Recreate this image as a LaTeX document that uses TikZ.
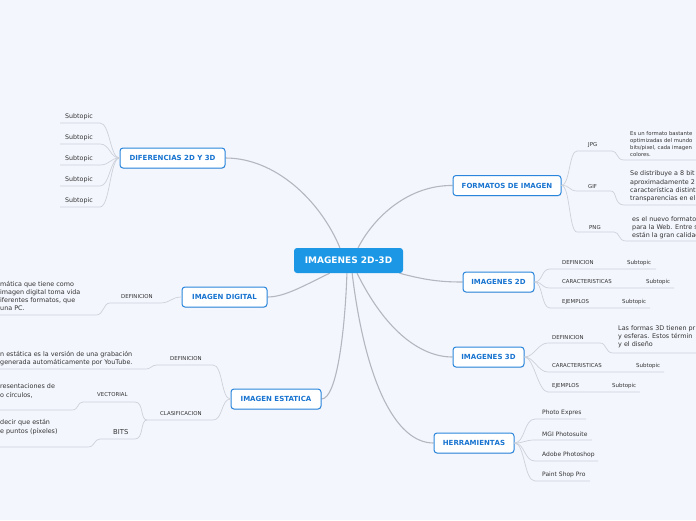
\documentclass[tikz,border=0pt]{standalone}
\usepackage{fontspec}
\setmainfont{DejaVu Sans}
\usetikzlibrary{positioning,backgrounds,shadows}
\definecolor{cBg}{HTML}{F3F6FD}
\definecolor{cRoot}{HTML}{1B97E6}
\definecolor{cTopic}{HTML}{2A86DD}
\definecolor{cTopicTx}{HTML}{1874D0}
\definecolor{cLink}{HTML}{B4B7BF}
\definecolor{cSub}{HTML}{CDD1D9}
\definecolor{cInk}{HTML}{333333}

\begin{document}
\begin{tikzpicture}[
    x=1pt, y=-1pt,
    every node/.style={text=cInk},
    root/.style={
        rectangle, rounded corners=3pt, fill=cRoot,
        minimum width=109pt, minimum height=25pt,
        text=white, font=\bfseries\fontsize{9}{10}\selectfont
    },
    topic/.style={
        rectangle, rounded corners=3pt, draw=cTopic, line width=1pt,
        fill=white, minimum height=20pt, inner xsep=6pt,
        drop shadow={opacity=0.18, shadow xshift=0.4pt, shadow yshift=-0.8pt},
        text=cTopicTx, font=\bfseries\fontsize{7}{8}\selectfont
    },
    lbl/.style={anchor=west, inner sep=0pt, font=\fontsize{5.4}{6}\selectfont},
    leaf/.style={anchor=west, inner sep=0pt, font=\fontsize{6}{7}\selectfont},
    note/.style={anchor=west, inner sep=0pt, align=left, font=\fontsize{6.4}{8}\selectfont},
    link/.style={draw=cLink, line width=1.1pt},
    sublink/.style={draw=cSub, line width=0.7pt},
]

\useasboundingbox (0,0) rectangle (696,520);
\begin{scope}[on background layer]
    \fill[cBg] (0,0) rectangle (696,520);
\end{scope}

% =====================================================
% Root and main topics
% =====================================================

\node[root] (root) at (348.5,260.5) {IMAGENES 2D-3D};

\node[topic, minimum width=105pt] (dif) at (172.5,158) {DIFERENCIAS 2D Y 3D};
\node[topic, minimum width=85pt]  (dig) at (224.5,297) {IMAGEN DIGITAL};
\node[topic, minimum width=90pt]  (est) at (276,399)   {IMAGEN ESTATICA};
\node[topic, minimum width=108pt] (fmt) at (507,185.5) {FORMATOS DE IMAGEN};
\node[topic, minimum width=71pt]  (i2d) at (498.5,282) {IMAGENES 2D};
\node[topic, minimum width=71pt]  (i3d) at (488.5,357) {IMAGENES 3D};
\node[topic, minimum width=80pt]  (her) at (474,443)   {HERRAMIENT\raisebox{-0.8pt}{AS}};

\begin{scope}[on background layer]
    \draw[link] (root.124) .. controls (320,200) and (275,158) .. (dif.east);
    \draw[link] (root.53)  .. controls (375,215) and (410,185) .. (fmt.west);
    \draw[link] (root.-14) .. controls (425,280) and (440,282) .. (i2d.west);
    \draw[link] (root.-146) .. controls (305,285) and (285,297) .. (dig.east);
    \draw[link] (root.-97) .. controls (345,330) and (337,399) .. (est.east);
    \draw[link] (root.-56) .. controls (385,330) and (420,357) .. (i3d.west);
    \draw[link] (root.-74) .. controls (365,380) and (395,443) .. (her.west);
\end{scope}

% =====================================================
% DIFERENCIAS 2D Y 3D
% =====================================================

\foreach \yy [count=\i] in {123,144,165,186,207} {
    \coordinate (difU\i) at (100,\yy);
    \node[leaf, font=\fontsize{6.3}{7}\selectfont] (difS\i) at (65,\yy-6.5) {Subtopic};
    \draw[sublink] (dif.west) .. controls (110,158) and (110,\yy) .. (difU\i) -- (60,\yy);
}

% =====================================================
% IMAGEN DIGITAL
% =====================================================

\node[lbl] (dgDef) at (121,297) {DEFINICION};
\coordinate (dgU) at (160,303);
\coordinate (dgEnd) at (0,315);
\draw[sublink] (dig.west) .. controls (171,297) and (171,303) .. (dgU)
    -- (110,303) .. controls (103,303) and (104,315) .. (96,315) -- (dgEnd);
\node[note] (dgTxt) at (0,296) {mática que tiene como\\ imagen digital toma vida\\iferentes formatos, que\\ una PC.};

% =====================================================
% IMAGEN ESTATICA
% =====================================================

\node[lbl] (esDef) at (170,359) {DEFINICION};
\coordinate (esDefU) at (213,365);
\draw[sublink] (est.west) .. controls (221,399) and (223,365) .. (esDefU)
    -- (157,365) .. controls (151,365) and (152,369) .. (145,369) -- (0,369);
\node[note] (esDefTx) at (0,359) {n estática es la versión de una grabación\\generada automáticamente por YouTube.};

\node[lbl] (esCla) at (160,414) {CLASIFICACION};
\coordinate (esClaU) at (213,420);
\coordinate (esJoin) at (147,420);
\draw[sublink] (est.west) .. controls (221,399) and (223,420) .. (esClaU) -- (esJoin);

\node[lbl] (esVec) at (97,395) {VECTORIAL};
\node[leaf, font=\fontsize{6.8}{8}\selectfont] (esBit) at (113,432) {BITS};
\draw[sublink] (esJoin) .. controls (140,420) and (144,402) .. (135,402)
    -- (83,402) .. controls (77,402) and (79,410) .. (72,410) -- (0,410);
\draw[sublink] (esJoin) .. controls (140,420) and (144,439) .. (135,439)
    -- (100,439) .. controls (94,439) and (95,447) .. (88,447) -- (0,447);
\node[note, font=\fontsize{6.4}{9}\selectfont] (esVecTx) at (0,390.5) {resentaciones de\\o círculos,};
\node[note, font=\fontsize{6.4}{9}\selectfont] (esBitTx) at (0,427.5) {decir que están\\e puntos (píxeles)};

% =====================================================
% FORMATOS DE IMAGEN
% =====================================================

\node[lbl] (fmJpg) at (588,145) {JPG};
\node[lbl] (fmGif) at (588,187) {GIF};
\node[lbl] (fmPng) at (589,228) {PNG};
\draw[sublink] (fmt.east) .. controls (570,185) and (569,151) .. (577,151)
    -- (612,151) .. controls (618,151) and (616,160) .. (624,160) -- (696,160);
\draw[sublink] (fmt.east) .. controls (570,185) and (569,191) .. (577,191)
    -- (611,191) .. controls (617,191) and (614,205) .. (624,205) -- (696,205);
\draw[sublink] (fmt.east) .. controls (570,185) and (569,232) .. (577,232)
    -- (614,232) .. controls (620,232) and (618,241) .. (626,241) -- (696,241);
\node[note, font=\fontsize{5.3}{7}\selectfont] (fmJpgTx) at (630,144.5) {Es un formato bastante\\optimizadas del mundo\\bits/pixel, cada imagen\\colores.};
\node[note, font=\fontsize{6.4}{8.4}\selectfont] (fmGifTx) at (630,186.5) {Se distribuye a 8 bit\\aproximadamente 2\\característica distinti\\transparencias en el};
\node[note] (fmPngTx) at (632,228) {es el nuevo formato\\para la Web. Entre s\\están la gran calidad};

% =====================================================
% IMAGENES 2D
% =====================================================

\foreach \nm/\tx/\yy/\sx/\ex in {Def/DEFINICION/269/627/656,
                                 Car/CARACTERISTICAS/288/646/674,
                                 Eje/EJEMPLOS/308/622/650} {
    \node[lbl] (d2\nm) at (562,\yy-6) {\tx};
    \node[lbl, font=\fontsize{5.5}{6}\selectfont] (d2\nm S) at (\sx,\yy-6) {Subtopic};
    \draw[sublink] (i2d.east) .. controls (543,282) and (541,\yy) .. (550,\yy) -- (\ex,\yy);
}

% =====================================================
% IMAGENES 3D
% =====================================================

\node[lbl] (d3Def) at (552,338) {DEFINICION};
\draw[sublink] (i3d.east) .. controls (534,357) and (538,343) .. (548,343)
    -- (600,343) .. controls (607,343) and (605,353) .. (613,353) -- (696,353);
\node[note] (d3DefTx) at (618,337) {Las formas 3D tienen pr\\y esferas. Estos términ\\y el diseño};

\foreach \nm/\tx/\yy/\sx/\ex in {Car/CARACTERISTICAS/372/636/664,
                                 Eje/EJEMPLOS/392/612/640} {
    \node[lbl] (d3\nm) at (552,\yy-6) {\tx};
    \node[lbl, font=\fontsize{5.5}{6}\selectfont] (d3\nm S) at (\sx,\yy-6) {Subtopic};
    \draw[sublink] (i3d.east) .. controls (534,357) and (538,\yy) .. (548,\yy) -- (\ex,\yy);
}

% =====================================================
% HERRAMIENTAS
% =====================================================

\foreach \nm/\tx/\yy/\ex in {Exp/Photo Expres/419/586,
                             Mgi/MGI Photosuite/440/592,
                             Ado/Adobe Photoshop/461/598,
                             Psp/Paint Shop Pro/481/590} {
    \node[leaf] (he\nm) at (542,\yy-6) {\tx};
    \draw[sublink] (her.east) .. controls (525,443) and (524,\yy) .. (535,\yy) -- (\ex,\yy);
}

\end{tikzpicture}
\end{document}
